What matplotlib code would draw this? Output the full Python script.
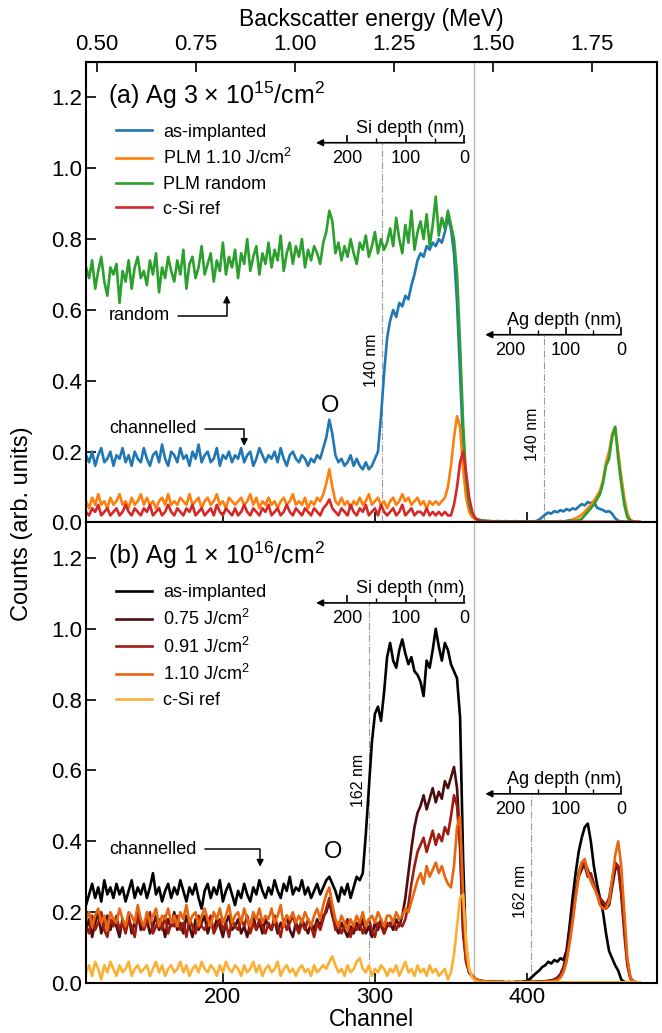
import numpy as np
import matplotlib.pyplot as plt

plt.rcParams['font.family'] = ['Liberation Sans', 'DejaVu Sans']
plt.rcParams['mathtext.fontset'] = 'custom'
plt.rcParams['mathtext.rm'] = 'Liberation Sans'
plt.rcParams['mathtext.it'] = 'Liberation Sans:italic'

# RBS spectra, sampled every 2nd channel (110 ... 474)
channel = np.arange(110, 476, 2)

# (a) Ag 3e15 /cm2
a_asimpl = [
    0.19, 0.17, 0.20, 0.16, 0.19, 0.21, 0.17, 0.18, 0.20, 0.16,
    0.19, 0.18, 0.21, 0.17, 0.19, 0.16, 0.20, 0.18, 0.17, 0.21,
    0.18, 0.16, 0.19, 0.20, 0.17, 0.22, 0.18, 0.16, 0.20, 0.19,
    0.17, 0.21, 0.18, 0.19, 0.16, 0.20, 0.18, 0.22, 0.17, 0.19,
    0.20, 0.17, 0.18, 0.21, 0.16, 0.19, 0.18, 0.20, 0.17, 0.19,
    0.18, 0.21, 0.17, 0.19, 0.20, 0.16, 0.18, 0.21, 0.19, 0.17,
    0.19, 0.18, 0.20, 0.17, 0.21, 0.18, 0.16, 0.19, 0.20, 0.18,
    0.17, 0.19, 0.18, 0.16, 0.18, 0.17, 0.19, 0.18, 0.21, 0.24,
    0.29, 0.25, 0.19, 0.17, 0.18, 0.16, 0.17, 0.19, 0.16, 0.18,
    0.16, 0.15, 0.17, 0.15, 0.16, 0.18, 0.20, 0.30, 0.42, 0.52,
    0.57, 0.60, 0.58, 0.62, 0.61, 0.64, 0.63, 0.67, 0.70, 0.74,
    0.76, 0.75, 0.78, 0.77, 0.79, 0.78, 0.80, 0.79, 0.82, 0.86,
    0.83, 0.76, 0.62, 0.42, 0.22, 0.09, 0.04, 0.02, 0.012, 0.008,
    0.006, 0.005, 0.004, 0.004, 0.003, 0.003, 0.004, 0.003, 0.003, 0.003,
    0.003, 0.003, 0.002, 0.003, 0.003, 0.002, 0.003, 0.003, 0.004, 0.008,
    0.015, 0.022, 0.028, 0.025, 0.032, 0.029, 0.035, 0.031, 0.038, 0.034,
    0.040, 0.037, 0.045, 0.052, 0.048, 0.058, 0.054, 0.060, 0.042, 0.038,
    0.035, 0.030, 0.032, 0.025, 0.012, 0.005, 0.003, 0.002, 0.002, 0.001,
    0.001, 0.001, 0.001,
]
a_plm110 = [
    0.06, 0.04, 0.07, 0.05, 0.08, 0.05, 0.06, 0.04, 0.07, 0.05,
    0.06, 0.08, 0.05, 0.06, 0.04, 0.07, 0.05, 0.06, 0.08, 0.05,
    0.07, 0.05, 0.06, 0.04, 0.06, 0.07, 0.05, 0.08, 0.05, 0.06,
    0.05, 0.07, 0.06, 0.05, 0.08, 0.05, 0.06, 0.07, 0.04, 0.06,
    0.07, 0.05, 0.06, 0.08, 0.05, 0.06, 0.04, 0.07, 0.06, 0.05,
    0.06, 0.07, 0.05, 0.06, 0.08, 0.05, 0.07, 0.04, 0.06, 0.05,
    0.07, 0.05, 0.06, 0.04, 0.06, 0.07, 0.05, 0.06, 0.08, 0.05,
    0.06, 0.05, 0.07, 0.04, 0.06, 0.05, 0.07, 0.06, 0.08, 0.11,
    0.15, 0.10, 0.06, 0.05, 0.07, 0.05, 0.06, 0.04, 0.06, 0.05,
    0.07, 0.05, 0.06, 0.08, 0.05, 0.06, 0.07, 0.05, 0.06, 0.04,
    0.06, 0.07, 0.05, 0.06, 0.08, 0.06, 0.07, 0.05, 0.06, 0.07,
    0.05, 0.06, 0.04, 0.06, 0.05, 0.06, 0.05, 0.06, 0.07, 0.10,
    0.16, 0.24, 0.30, 0.27, 0.15, 0.07, 0.03, 0.015, 0.01, 0.007,
    0.005, 0.004, 0.004, 0.003, 0.003, 0.003, 0.002, 0.003, 0.002, 0.002,
    0.002, 0.002, 0.003, 0.002, 0.002, 0.002, 0.003, 0.002, 0.002, 0.002,
    0.002, 0.002, 0.002, 0.003, 0.002, 0.002, 0.003, 0.003, 0.004, 0.006,
    0.008, 0.012, 0.016, 0.022, 0.030, 0.040, 0.050, 0.060, 0.075, 0.09,
    0.12, 0.17, 0.20, 0.25, 0.27, 0.20, 0.13, 0.07, 0.025, 0.008,
    0.003, 0.002, 0.001,
]
a_random = [
    0.72, 0.69, 0.74, 0.66, 0.71, 0.75, 0.68, 0.64, 0.72, 0.70,
    0.73, 0.62, 0.71, 0.68, 0.74, 0.66, 0.72, 0.75, 0.69, 0.71,
    0.67, 0.74, 0.70, 0.76, 0.65, 0.72, 0.69, 0.75, 0.71, 0.68,
    0.74, 0.70, 0.77, 0.66, 0.73, 0.75, 0.69, 0.72, 0.78, 0.70,
    0.73, 0.76, 0.68, 0.74, 0.71, 0.79, 0.70, 0.75, 0.72, 0.77,
    0.69, 0.76, 0.73, 0.80, 0.71, 0.75, 0.78, 0.70, 0.76, 0.73,
    0.79, 0.72, 0.77, 0.74, 0.81, 0.71, 0.76, 0.79, 0.73, 0.78,
    0.75, 0.80, 0.72, 0.77, 0.74, 0.78, 0.76, 0.73, 0.79, 0.82,
    0.88, 0.85, 0.76, 0.79, 0.74, 0.78, 0.75, 0.80, 0.76, 0.73,
    0.79, 0.77, 0.81, 0.75, 0.78, 0.82, 0.76, 0.80, 0.77, 0.79,
    0.83, 0.78, 0.86, 0.80, 0.76, 0.84, 0.79, 0.88, 0.77, 0.82,
    0.85, 0.80, 0.87, 0.78, 0.84, 0.92, 0.81, 0.86, 0.83, 0.88,
    0.84, 0.80, 0.70, 0.50, 0.28, 0.12, 0.05, 0.025, 0.012, 0.008,
    0.006, 0.005, 0.004, 0.004, 0.003, 0.004, 0.003, 0.003, 0.004, 0.003,
    0.003, 0.004, 0.003, 0.003, 0.002, 0.003, 0.003, 0.002, 0.003, 0.003,
    0.003, 0.002, 0.003, 0.003, 0.002, 0.003, 0.004, 0.003, 0.004, 0.006,
    0.004, 0.005, 0.006, 0.010, 0.020, 0.030, 0.040, 0.050, 0.065, 0.08,
    0.11, 0.16, 0.18, 0.24, 0.27, 0.18, 0.11, 0.05, 0.015, 0.005,
    0.002, 0.001, 0.001,
]
a_csi = [
    0.03, 0.02, 0.04, 0.03, 0.05, 0.02, 0.03, 0.04, 0.02, 0.03,
    0.04, 0.02, 0.03, 0.05, 0.03, 0.02, 0.04, 0.03, 0.02, 0.04,
    0.03, 0.05, 0.02, 0.03, 0.04, 0.02, 0.03, 0.05, 0.03, 0.02,
    0.04, 0.03, 0.02, 0.04, 0.03, 0.05, 0.02, 0.03, 0.04, 0.02,
    0.03, 0.04, 0.02, 0.05, 0.03, 0.02, 0.04, 0.03, 0.02, 0.04,
    0.02, 0.03, 0.05, 0.03, 0.02, 0.04, 0.03, 0.02, 0.04, 0.03,
    0.05, 0.02, 0.03, 0.04, 0.02, 0.03, 0.05, 0.03, 0.02, 0.04,
    0.03, 0.02, 0.04, 0.03, 0.02, 0.04, 0.03, 0.02, 0.04, 0.05,
    0.065, 0.04, 0.03, 0.02, 0.04, 0.03, 0.02, 0.05, 0.03, 0.02,
    0.04, 0.03, 0.05, 0.02, 0.03, 0.04, 0.02, 0.05, 0.03, 0.02,
    0.03, 0.04, 0.02, 0.03, 0.05, 0.02, 0.03, 0.04, 0.02, 0.03,
    0.03, 0.02, 0.04, 0.02, 0.03, 0.02, 0.03, 0.02, 0.03, 0.02,
    0.02, 0.05, 0.10, 0.17, 0.20, 0.14, 0.07, 0.03, 0.012, 0.006,
    0.004, 0.003, 0.003, 0.002, 0.002, 0.002, 0.002, 0.002, 0.002, 0.002,
    0.002, 0.002, 0.002, 0.002, 0.002, 0.002, 0.002, 0.002, 0.002, 0.002,
    0.002, 0.002, 0.002, 0.002, 0.002, 0.002, 0.002, 0.002, 0.002, 0.002,
    0.002, 0.002, 0.002, 0.002, 0.002, 0.002, 0.002, 0.002, 0.002, 0.002,
    0.002, 0.002, 0.002, 0.002, 0.002, 0.002, 0.002, 0.002, 0.002, 0.002,
    0.002, 0.002, 0.002,
]

# (b) Ag 1e16 /cm2
b_asimpl = [
    0.22, 0.25, 0.28, 0.24, 0.27, 0.23, 0.29, 0.25, 0.27, 0.24,
    0.28, 0.25, 0.27, 0.23, 0.26, 0.29, 0.24, 0.27, 0.25, 0.28,
    0.24, 0.27, 0.31, 0.25, 0.27, 0.23, 0.26, 0.28, 0.24, 0.27,
    0.25, 0.29, 0.26, 0.23, 0.27, 0.25, 0.28, 0.24, 0.21, 0.26,
    0.28, 0.24, 0.27, 0.25, 0.29, 0.23, 0.26, 0.28, 0.25, 0.22,
    0.26, 0.24, 0.28, 0.25, 0.23, 0.27, 0.25, 0.29, 0.26, 0.24,
    0.27, 0.25, 0.29, 0.26, 0.24, 0.28, 0.26, 0.30, 0.25, 0.27,
    0.26, 0.29, 0.25, 0.27, 0.24, 0.26, 0.28, 0.25, 0.27, 0.29,
    0.30, 0.28, 0.26, 0.23, 0.27, 0.25, 0.28, 0.24, 0.27, 0.30,
    0.29, 0.31, 0.42, 0.55, 0.68, 0.76, 0.78, 0.74, 0.82, 0.92,
    0.96, 0.91, 0.89, 0.94, 0.97, 0.93, 0.90, 0.92, 0.88, 0.87,
    0.85, 0.81, 0.91, 0.89, 0.94, 1.00, 0.95, 0.91, 0.96, 0.94,
    0.90, 0.88, 0.86, 0.75, 0.35, 0.08, 0.03, 0.02, 0.012, 0.008,
    0.006, 0.005, 0.004, 0.004, 0.003, 0.003, 0.003, 0.003, 0.002, 0.003,
    0.002, 0.003, 0.003, 0.003, 0.004, 0.006, 0.012, 0.020, 0.028, 0.035,
    0.045, 0.050, 0.060, 0.055, 0.065, 0.060, 0.070, 0.065, 0.09, 0.16,
    0.24, 0.31, 0.37, 0.41, 0.44, 0.45, 0.40, 0.33, 0.28, 0.24,
    0.20, 0.14, 0.09, 0.07, 0.05, 0.035, 0.01, 0.003, 0.002, 0.001,
    0.001, 0.001, 0.001,
]
b_075 = [
    0.15, 0.18, 0.13, 0.17, 0.20, 0.14, 0.17, 0.19, 0.15, 0.18,
    0.16, 0.13, 0.18, 0.15, 0.19, 0.14, 0.17, 0.20, 0.15, 0.16,
    0.18, 0.14, 0.16, 0.19, 0.15, 0.17, 0.13, 0.18, 0.16, 0.20,
    0.15, 0.17, 0.14, 0.19, 0.16, 0.13, 0.18, 0.15, 0.17, 0.19,
    0.14, 0.17, 0.15, 0.18, 0.16, 0.13, 0.17, 0.19, 0.15, 0.16,
    0.18, 0.14, 0.16, 0.13, 0.17, 0.19, 0.15, 0.17, 0.14, 0.18,
    0.16, 0.15, 0.18, 0.14, 0.17, 0.16, 0.19, 0.15, 0.13, 0.17,
    0.15, 0.18, 0.16, 0.14, 0.17, 0.15, 0.18, 0.16, 0.19, 0.20,
    0.23, 0.19, 0.16, 0.14, 0.17, 0.15, 0.13, 0.16, 0.14, 0.17,
    0.15, 0.18, 0.14, 0.16, 0.13, 0.17, 0.15, 0.18, 0.14, 0.16,
    0.17, 0.15, 0.18, 0.16, 0.19, 0.24, 0.31, 0.38, 0.44, 0.48,
    0.50, 0.53, 0.49, 0.52, 0.55, 0.51, 0.54, 0.52, 0.57, 0.55,
    0.58, 0.61, 0.55, 0.40, 0.15, 0.06, 0.03, 0.02, 0.012, 0.008,
    0.005, 0.004, 0.004, 0.003, 0.003, 0.003, 0.002, 0.003, 0.002, 0.002,
    0.002, 0.002, 0.003, 0.002, 0.002, 0.003, 0.003, 0.003, 0.003, 0.004,
    0.004, 0.005, 0.006, 0.008, 0.010, 0.015, 0.025, 0.045, 0.08, 0.14,
    0.20, 0.26, 0.30, 0.32, 0.34, 0.32, 0.29, 0.27, 0.26, 0.24,
    0.22, 0.21, 0.22, 0.27, 0.32, 0.33, 0.26, 0.16, 0.06, 0.015,
    0.004, 0.002, 0.001,
]
b_091 = [
    0.16, 0.14, 0.19, 0.15, 0.17, 0.20, 0.15, 0.13, 0.18, 0.16,
    0.19, 0.15, 0.17, 0.14, 0.18, 0.16, 0.13, 0.19, 0.17, 0.15,
    0.17, 0.20, 0.14, 0.16, 0.18, 0.15, 0.19, 0.14, 0.17, 0.16,
    0.19, 0.15, 0.17, 0.13, 0.18, 0.16, 0.14, 0.19, 0.16, 0.15,
    0.17, 0.19, 0.14, 0.16, 0.18, 0.15, 0.17, 0.13, 0.18, 0.16,
    0.15, 0.18, 0.16, 0.19, 0.14, 0.17, 0.15, 0.18, 0.16, 0.14,
    0.17, 0.15, 0.19, 0.16, 0.13, 0.18, 0.15, 0.17, 0.19, 0.16,
    0.14, 0.17, 0.15, 0.18, 0.16, 0.13, 0.17, 0.15, 0.18, 0.21,
    0.24, 0.20, 0.15, 0.17, 0.14, 0.16, 0.18, 0.13, 0.16, 0.15,
    0.17, 0.14, 0.16, 0.18, 0.15, 0.13, 0.17, 0.16, 0.14, 0.17,
    0.16, 0.18, 0.15, 0.17, 0.16, 0.18, 0.22, 0.28, 0.33, 0.37,
    0.39, 0.41, 0.37, 0.40, 0.43, 0.39, 0.42, 0.40, 0.44, 0.42,
    0.47, 0.53, 0.50, 0.38, 0.14, 0.06, 0.03, 0.018, 0.01, 0.007,
    0.005, 0.004, 0.004, 0.003, 0.003, 0.003, 0.003, 0.002, 0.002, 0.002,
    0.002, 0.002, 0.002, 0.002, 0.002, 0.003, 0.003, 0.003, 0.004, 0.004,
    0.004, 0.005, 0.005, 0.006, 0.008, 0.012, 0.020, 0.040, 0.07, 0.12,
    0.18, 0.25, 0.31, 0.34, 0.33, 0.30, 0.31, 0.28, 0.25, 0.24,
    0.23, 0.22, 0.24, 0.29, 0.34, 0.33, 0.25, 0.14, 0.05, 0.012,
    0.004, 0.002, 0.001,
]
b_110 = [
    0.18, 0.20, 0.16, 0.19, 0.21, 0.17, 0.19, 0.15, 0.20, 0.18,
    0.17, 0.21, 0.18, 0.16, 0.20, 0.19, 0.17, 0.22, 0.18, 0.16,
    0.20, 0.17, 0.19, 0.21, 0.16, 0.19, 0.18, 0.21, 0.17, 0.19,
    0.16, 0.20, 0.18, 0.22, 0.17, 0.19, 0.20, 0.16, 0.19, 0.21,
    0.18, 0.16, 0.20, 0.18, 0.21, 0.17, 0.19, 0.22, 0.17, 0.19,
    0.20, 0.17, 0.21, 0.18, 0.16, 0.20, 0.18, 0.21, 0.17, 0.19,
    0.18, 0.21, 0.17, 0.19, 0.22, 0.16, 0.19, 0.18, 0.20, 0.17,
    0.19, 0.17, 0.20, 0.18, 0.16, 0.19, 0.21, 0.18, 0.22, 0.25,
    0.27, 0.22, 0.18, 0.16, 0.19, 0.17, 0.15, 0.18, 0.16, 0.19,
    0.17, 0.20, 0.16, 0.18, 0.19, 0.17, 0.20, 0.18, 0.16, 0.19,
    0.19, 0.17, 0.20, 0.18, 0.19, 0.21, 0.20, 0.23, 0.26, 0.29,
    0.31, 0.28, 0.33, 0.30, 0.32, 0.34, 0.31, 0.33, 0.30, 0.28,
    0.27, 0.33, 0.44, 0.47, 0.25, 0.08, 0.035, 0.02, 0.012, 0.008,
    0.006, 0.005, 0.004, 0.004, 0.003, 0.003, 0.003, 0.003, 0.002, 0.002,
    0.002, 0.002, 0.003, 0.002, 0.002, 0.003, 0.002, 0.003, 0.003, 0.003,
    0.003, 0.004, 0.004, 0.005, 0.006, 0.008, 0.015, 0.030, 0.06, 0.11,
    0.17, 0.24, 0.30, 0.34, 0.35, 0.31, 0.29, 0.27, 0.25, 0.22,
    0.21, 0.21, 0.23, 0.29, 0.36, 0.40, 0.33, 0.20, 0.07, 0.015,
    0.004, 0.002, 0.001,
]
b_csi = [
    0.03, 0.05, 0.02, 0.06, 0.04, 0.01, 0.05, 0.03, 0.06, 0.04,
    0.02, 0.05, 0.03, 0.04, 0.06, 0.02, 0.04, 0.05, 0.03, 0.04,
    0.05, 0.02, 0.04, 0.06, 0.03, 0.05, 0.02, 0.04, 0.05, 0.03,
    0.04, 0.06, 0.03, 0.05, 0.02, 0.04, 0.05, 0.03, 0.06, 0.04,
    0.03, 0.05, 0.04, 0.02, 0.05, 0.03, 0.06, 0.04, 0.03, 0.05,
    0.04, 0.02, 0.05, 0.03, 0.04, 0.06, 0.03, 0.05, 0.02, 0.04,
    0.05, 0.03, 0.04, 0.06, 0.02, 0.04, 0.05, 0.03, 0.04, 0.02,
    0.04, 0.05, 0.03, 0.04, 0.02, 0.05, 0.03, 0.04, 0.05, 0.04,
    0.06, 0.075, 0.05, 0.03, 0.04, 0.02, 0.05, 0.03, 0.04, 0.06,
    0.07, 0.04, 0.03, 0.05, 0.02, 0.04, 0.03, 0.05, 0.04, 0.02,
    0.04, 0.03, 0.05, 0.02, 0.04, 0.06, 0.03, 0.04, 0.02, 0.05,
    0.03, 0.04, 0.02, 0.05, 0.03, 0.04, 0.02, 0.03, 0.04, 0.01,
    0.03, 0.08, 0.16, 0.24, 0.25, 0.12, 0.04, 0.015, 0.006, 0.003,
    0.002, 0.002, 0.002, 0.002, 0.002, 0.002, 0.002, 0.002, 0.002, 0.002,
    0.002, 0.002, 0.002, 0.002, 0.002, 0.002, 0.002, 0.002, 0.002, 0.002,
    0.002, 0.002, 0.002, 0.002, 0.002, 0.002, 0.002, 0.002, 0.002, 0.002,
    0.002, 0.002, 0.002, 0.002, 0.002, 0.002, 0.002, 0.002, 0.002, 0.002,
    0.002, 0.002, 0.002, 0.002, 0.002, 0.002, 0.002, 0.002, 0.002, 0.002,
    0.002, 0.002, 0.002,
]

labels_a = ["as-implanted", "PLM 1.10 J/cm$^2$", "PLM random", "c-Si ref"]
colors_a = ["#1f77b4", "#ff7f0e", "#2ca02c", "#d62728"]
labels_b = ["as-implanted", "0.75 J/cm$^2$", "0.91 J/cm$^2$", "1.10 J/cm$^2$", "c-Si ref"]
colors_b = ["#000000", "#4b0d0d", "#9e1b0f", "#e8660f", "#fbb034"]

# energy calibration channel -> MeV
E_SLOPE, E_OFFSET = 0.003836, 0.0512
energy_ticks = [0.50, 0.75, 1.00, 1.25, 1.50, 1.75]
SURFACE_CH = 365

# depth scales: channel of the surface and channels per nm
SI_CH0, SI_K = 358.9, 0.386
AG_CH0, AG_K = 462.0, 0.365


def ch2e(c):
    return E_OFFSET + E_SLOPE * np.asarray(c)


def e2ch(e):
    return (np.asarray(e) - E_OFFSET) / E_SLOPE


def depth_axis(ax, ch0, k, span, y, title, mark, text_y):
    ins = ax.inset_axes([ch0 - span * k, y, span * k, 0.02], transform=ax.transData)
    ins.set_xlim(span, 0)
    ins.patch.set_visible(False)
    for s in ins.spines.values():
        s.set_visible(False)
    ins.set_yticks([])
    ins.set_xticks([200, 100, 0])
    ins.set_xticks([150, 50], minor=True)
    ins.tick_params(axis="x", which="major", direction="in", length=5.5, width=1.2,
                    labelsize=13, pad=5)
    ins.tick_params(axis="x", which="minor", direction="in", length=3.5, width=1.0)
    ins.annotate("", xy=(0, 0), xytext=(1, 0), xycoords="axes fraction",
                 arrowprops=dict(arrowstyle="-|>", color="black", lw=1.2,
                                 shrinkA=0, shrinkB=0, mutation_scale=10))
    ins.text(1.0, 0.8, title, ha="right", va="bottom", fontsize=13,
             transform=ins.transAxes)
    cm = ch0 - mark * k
    ax.plot([cm, cm], [0, y], ls="-.", color="#9a9a9a", lw=0.8, zorder=0.5)
    ax.text(cm - 7, text_y, f"{mark} nm", rotation=90, ha="center", va="center",
            fontsize=11.5)


def arrow_note(ax, text, xytext, xy):
    ax.annotate(text, xy=xy, xytext=xytext, fontsize=13, ha="left", va="center",
                arrowprops=dict(arrowstyle="-|>", color="black", lw=1.1,
                                connectionstyle="angle,angleA=0,angleB=90,rad=0",
                                shrinkA=4, shrinkB=0, mutation_scale=10))


fig, (ax_a, ax_b) = plt.subplots(2, 1, figsize=(6.62, 10.33), dpi=100, sharex=True)
fig.subplots_adjust(left=0.130, right=0.9924, top=0.940, bottom=0.0484, hspace=0)

for ys, lab, col in zip([a_asimpl, a_plm110, a_random, a_csi], labels_a, colors_a):
    ax_a.plot(channel, ys, color=col, lw=1.9, label=lab)
for ys, lab, col in zip([b_asimpl, b_075, b_091, b_110, b_csi], labels_b, colors_b):
    ax_b.plot(channel, ys, color=col, lw=1.9, label=lab)

for ax in (ax_a, ax_b):
    ax.set_xlim(110, 485.5)
    ax.set_ylim(0, 1.3)
    ax.set_yticks(np.arange(0, 1.21, 0.2))
    ax.yaxis.set_major_formatter("{x:.1f}")
    ax.set_xticks([200, 300, 400])
    ax.tick_params(direction="in", length=7, width=1.2, labelsize=16, pad=3)
    ax.axvline(SURFACE_CH, color="#b8b8b8", lw=1.0, zorder=0)
    for s in ax.spines.values():
        s.set_linewidth(1.5)
    ax.legend(loc="upper left", bbox_to_anchor=(0.053, 0.866), frameon=False,
              fontsize=13, handlelength=2.0, handletextpad=0.6, labelspacing=0.42,
              borderaxespad=0, borderpad=0)

sec = ax_a.secondary_xaxis("top", functions=(ch2e, e2ch))
sec.set_xticks(energy_ticks)
sec.xaxis.set_major_formatter("{x:.2f}")
sec.tick_params(direction="in", length=7, width=1.2, labelsize=16, pad=5)
sec.set_xlabel("Backscatter energy (MeV)", fontsize=16.5, labelpad=6)

ax_a.text(0.038, 0.928, "(a) Ag 3 × 10$^{15}$/cm$^2$", transform=ax_a.transAxes,
          fontsize=18, va="center", ha="left")
ax_b.text(0.038, 0.928, "(b) Ag 1 × 10$^{16}$/cm$^2$", transform=ax_b.transAxes,
          fontsize=18, va="center", ha="left")

depth_axis(ax_a, SI_CH0, SI_K, 253, 1.072, "Si depth (nm)", 140, 0.457)
depth_axis(ax_a, AG_CH0, AG_K, 245, 0.530, "Ag depth (nm)", 140, 0.25)
depth_axis(ax_b, SI_CH0, SI_K, 253, 1.073, "Si depth (nm)", 162, 0.573)
depth_axis(ax_b, AG_CH0, AG_K, 245, 0.534, "Ag depth (nm)", 162, 0.258)

arrow_note(ax_a, "random", (125, 0.584), (202.5, 0.641))
arrow_note(ax_a, "channelled", (125, 0.264), (214, 0.216))
arrow_note(ax_b, "channelled", (125, 0.378), (224.5, 0.328))
ax_a.text(270.5, 0.33, "O", fontsize=17, ha="center", va="center")
ax_b.text(272.5, 0.37, "O", fontsize=17, ha="center", va="center")

ax_b.set_xlabel("Channel", fontsize=16.5, labelpad=0)
fig.text(0.033, 0.493, "Counts (arb. units)", rotation=90, ha="center", va="center",
         fontsize=17)

fig.savefig("out.png", dpi=100)
